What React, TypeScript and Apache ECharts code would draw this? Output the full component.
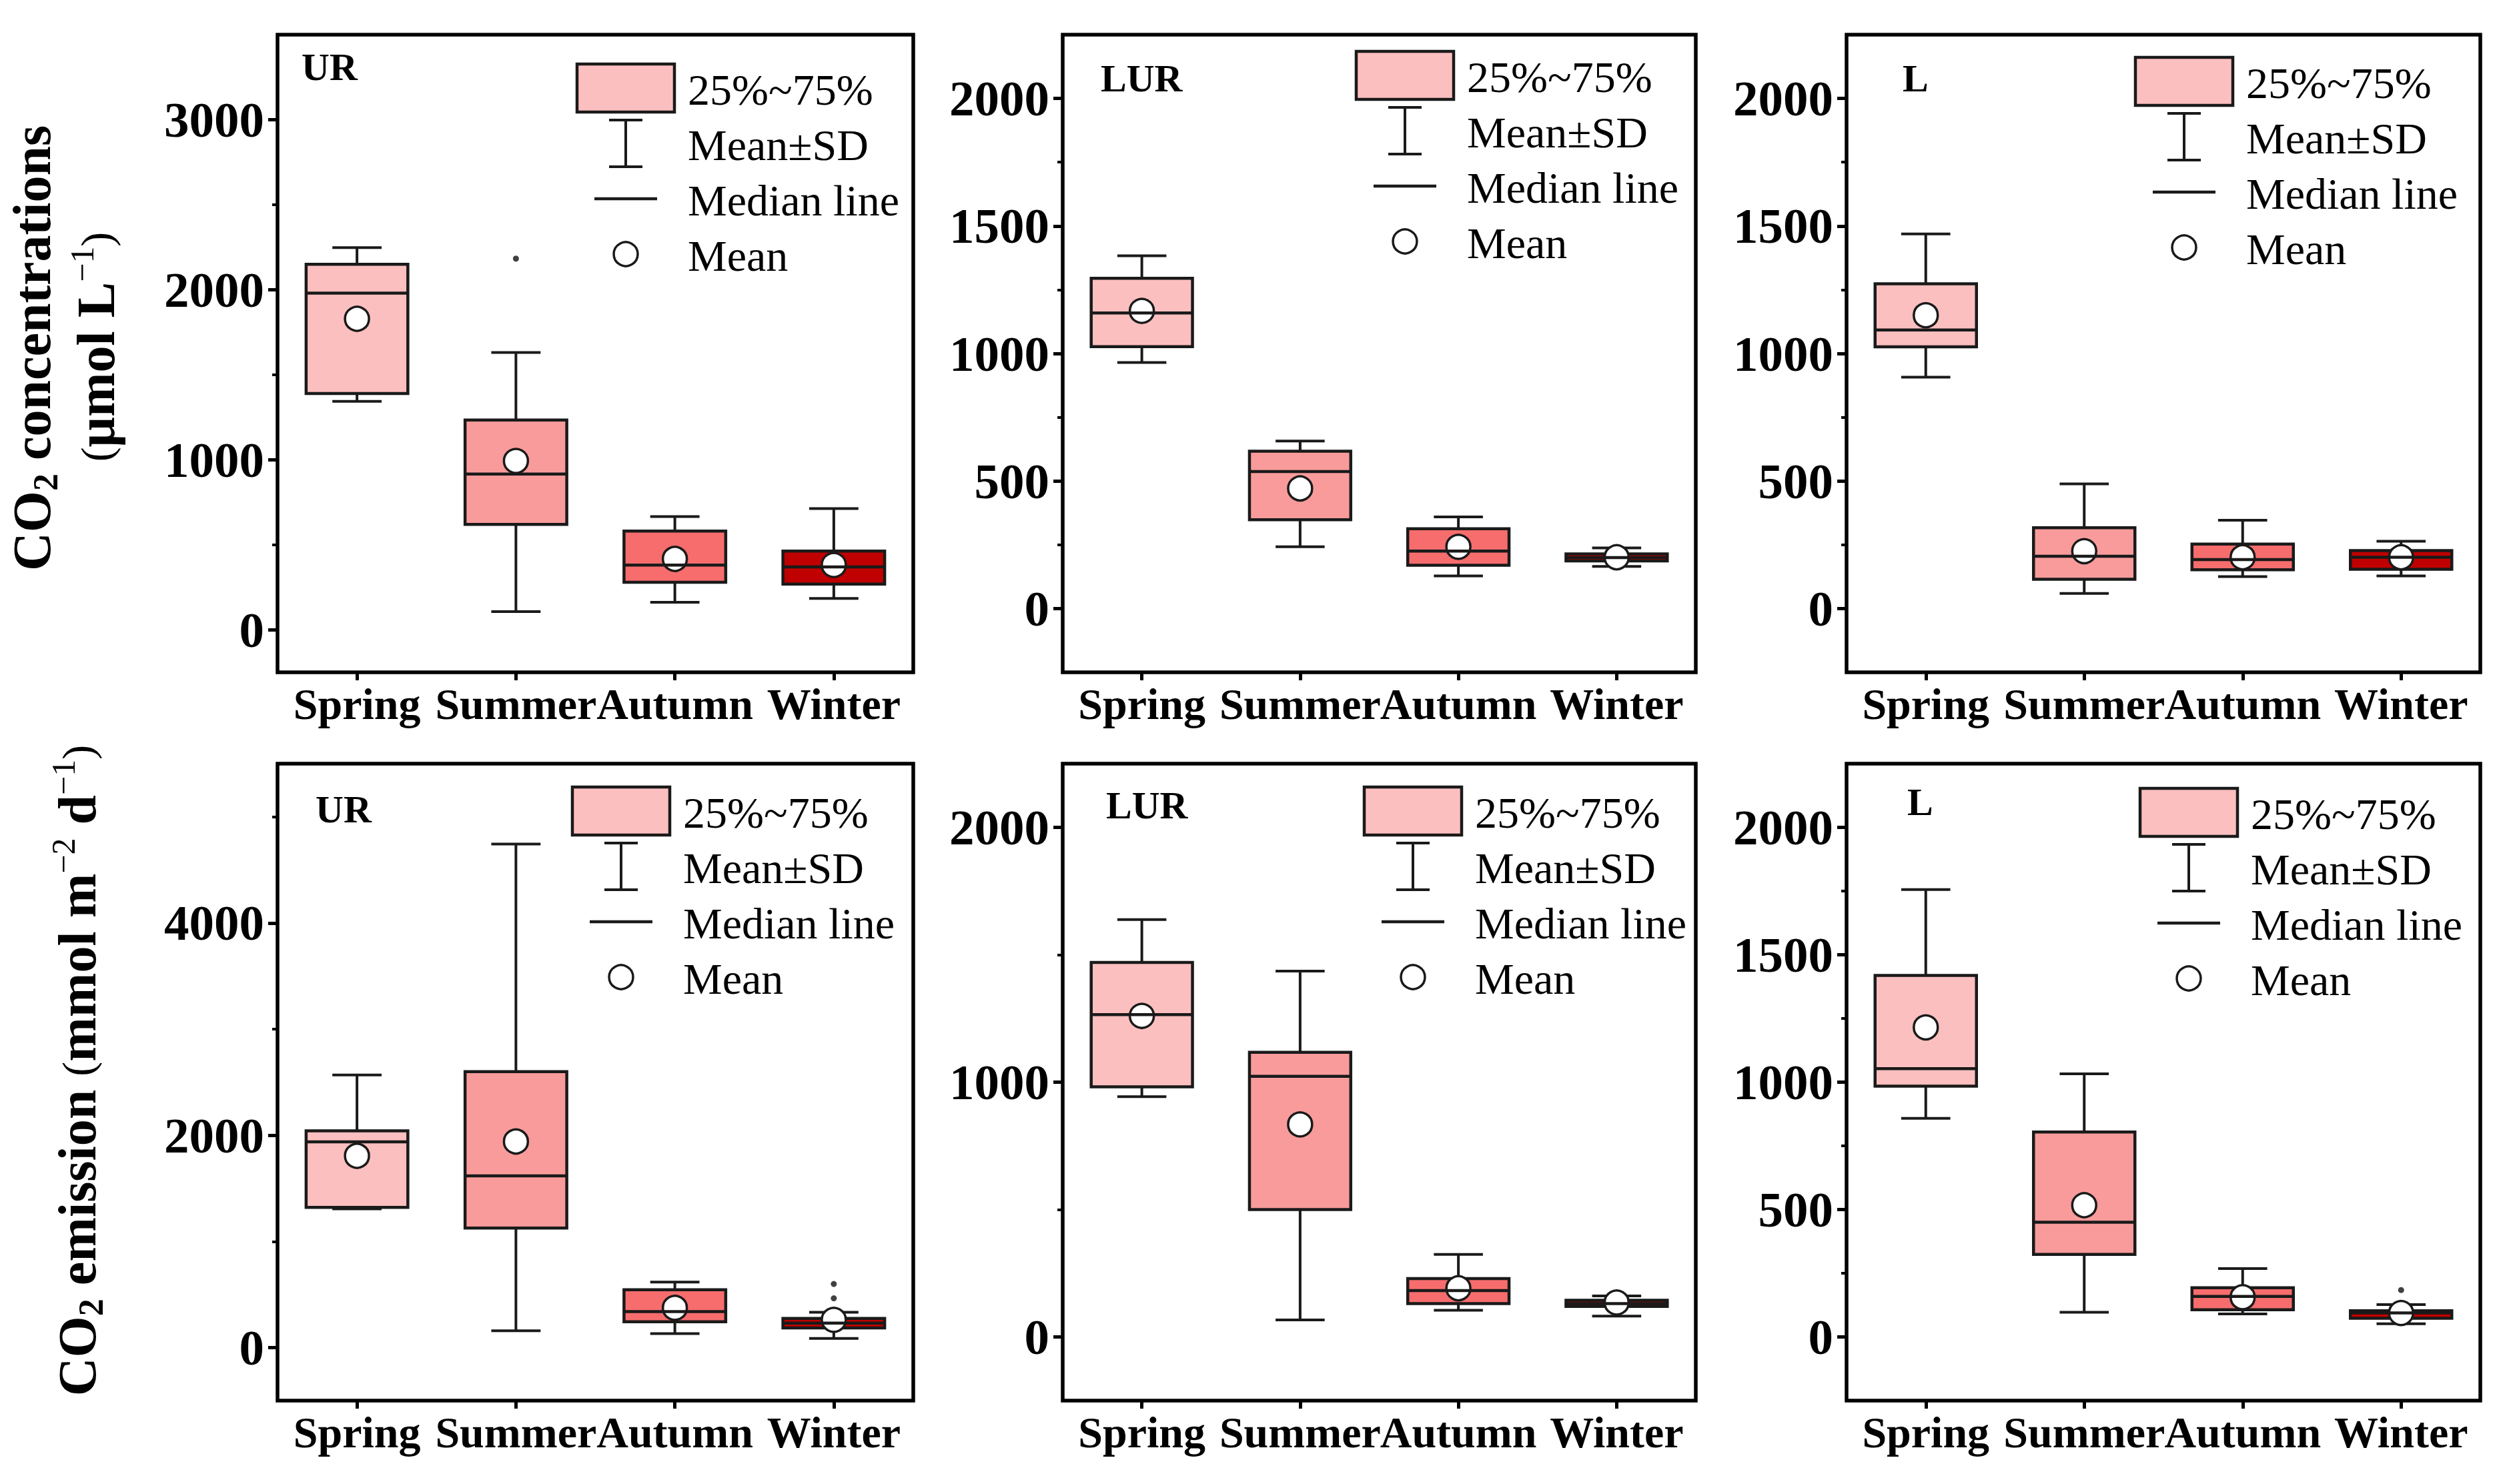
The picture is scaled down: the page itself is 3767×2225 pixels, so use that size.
import React, { useEffect, useRef } from "react";
import * as echarts from "echarts";

// ---------------- DATA ----------------
const seasons = ["Spring", "Summer", "Autumn", "Winter"];
const seasonColors = ["#FCBFBF", "#F99B9B", "#F76D6D", "#C00000"];

// each entry: [lower whisker, Q1, median, Q3, upper whisker]
const urConcBoxes = [
  [1344, 1390, 1980, 2150, 2248],
  [107, 620, 916, 1234, 1631],
  [162, 280, 381, 581, 666],
  [184, 269, 370, 463, 713],
];
const urConcMeans = [1829, 993, 417, 381];
const urConcOutliers = [["Summer", 2183]];
const urConcTicks = [0, 1000, 2000, 3000];
const urConcMinor = [500, 1500, 2500];

const lurConcBoxes = [
  [965, 1027, 1159, 1295, 1383],
  [242, 348, 537, 617, 657],
  [128, 170, 225, 313, 359],
  [165, 187, 200, 214, 238],
];
const lurConcMeans = [1167, 471, 242, 201];
const lurConcOutliers: [string, number][] = [];
const lurConcTicks = [0, 500, 1000, 1500, 2000];
const lurConcMinor = [250, 750, 1250, 1750];

const lConcBoxes = [
  [907, 1026, 1092, 1273, 1469],
  [59, 115, 205, 317, 489],
  [125, 152, 192, 253, 346],
  [128, 154, 201, 227, 264],
];
const lConcMeans = [1150, 225, 201, 201];
const lConcOutliers: [string, number][] = [];
const lConcTicks = [0, 500, 1000, 1500, 2000];
const lConcMinor = [250, 750, 1250, 1750];

const urEmisBoxes = [
  [1306, 1320, 1937, 2041, 2568],
  [158, 1126, 1617, 2599, 4743],
  [131, 243, 338, 545, 617],
  [86, 185, 230, 275, 333],
];
const urEmisMeans = [1806, 1941, 374, 261];
const urEmisOutliers = [["Winter", 464], ["Winter", 599]];
const urEmisTicks = [0, 2000, 4000];
const urEmisMinor = [1000, 3000, 5000];

const lurEmisBoxes = [
  [943, 982, 1265, 1470, 1638],
  [67, 500, 1023, 1117, 1436],
  [105, 131, 182, 229, 324],
  [82, 120, 131, 144, 161],
];
const lurEmisMeans = [1260, 834, 191, 135];
const lurEmisOutliers: [string, number][] = [];
const lurEmisTicks = [0, 1000, 2000];
const lurEmisMinor = [500, 1500];

const lEmisBoxes = [
  [858, 984, 1053, 1419, 1756],
  [97, 324, 450, 804, 1033],
  [90, 107, 159, 193, 268],
  [52, 73, 94, 103, 127],
];
const lEmisMeans = [1215, 517, 156, 94];
const lEmisOutliers = [["Winter", 184]];
const lEmisTicks = [0, 500, 1000, 1500, 2000];
const lEmisMinor = [250, 750, 1250, 1750];

const legendLabels = ["25%~75%", "Mean±SD", "Median line", "Mean"];

// ---------------- LAYOUT ----------------
const SERIF = "'Liberation Serif', 'Times New Roman', serif";

const panels = [
  { name: "UR", boxes: urConcBoxes, means: urConcMeans, outliers: urConcOutliers, min: -250, max: 3500, ticks: urConcTicks, minor: urConcMinor,
    left: 416, top: 52, width: 953, height: 956, lx: 452, ly: 100, legRight: 358, legTop: 44 },
  { name: "LUR", boxes: lurConcBoxes, means: lurConcMeans, outliers: lurConcOutliers, min: -250, max: 2250, ticks: lurConcTicks, minor: lurConcMinor,
    left: 1593, top: 52, width: 949, height: 956, lx: 1650, ly: 117, legRight: 363, legTop: 25 },
  { name: "L", boxes: lConcBoxes, means: lConcMeans, outliers: lConcOutliers, min: -250, max: 2250, ticks: lConcTicks, minor: lConcMinor,
    left: 2768, top: 52, width: 950, height: 956, lx: 2852, ly: 117, legRight: 371, legTop: 34 },
  { name: "UR", boxes: urEmisBoxes, means: urEmisMeans, outliers: urEmisOutliers, min: -500, max: 5500, ticks: urEmisTicks, minor: urEmisMinor,
    left: 416, top: 1145, width: 953, height: 955, lx: 473, ly: 1213, legRight: 365, legTop: 35 },
  { name: "LUR", boxes: lurEmisBoxes, means: lurEmisMeans, outliers: lurEmisOutliers, min: -250, max: 2250, ticks: lurEmisTicks, minor: lurEmisMinor,
    left: 1593, top: 1145, width: 949, height: 955, lx: 1658, ly: 1207, legRight: 351, legTop: 35 },
  { name: "L", boxes: lEmisBoxes, means: lEmisMeans, outliers: lEmisOutliers, min: -250, max: 2250, ticks: lEmisTicks, minor: lEmisMinor,
    left: 2768, top: 1145, width: 950, height: 955, lx: 2859, ly: 1202, legRight: 364, legTop: 37 },
];

const STROKE = "#1a1a1a";

function renderBox(params: any, api: any) {
  const i = api.value(0);
  const lo = api.coord([i, api.value(1)]);
  const q1 = api.coord([i, api.value(2)]);
  const md = api.coord([i, api.value(3)]);
  const q3 = api.coord([i, api.value(4)]);
  const hi = api.coord([i, api.value(5)]);
  const mn = api.coord([i, api.value(6)]);
  const band = api.size([1, 0])[0];
  const x = lo[0];
  const bw = band * 0.64;
  const cw = band * 0.31;
  const lw = 4;
  return {
    type: "group",
    children: [
      { type: "line", shape: { x1: x, y1: q3[1], x2: x, y2: hi[1] }, style: { stroke: STROKE, lineWidth: lw } },
      { type: "line", shape: { x1: x, y1: q1[1], x2: x, y2: lo[1] }, style: { stroke: STROKE, lineWidth: lw } },
      { type: "line", shape: { x1: x - cw / 2, y1: hi[1], x2: x + cw / 2, y2: hi[1] }, style: { stroke: STROKE, lineWidth: lw } },
      { type: "line", shape: { x1: x - cw / 2, y1: lo[1], x2: x + cw / 2, y2: lo[1] }, style: { stroke: STROKE, lineWidth: lw } },
      { type: "rect", shape: { x: x - bw / 2, y: q3[1], width: bw, height: q1[1] - q3[1] },
        style: { fill: seasonColors[i], stroke: STROKE, lineWidth: 4.5 } },
      { type: "circle", shape: { cx: x, cy: mn[1], r: 18 }, style: { fill: "#fff", stroke: STROKE, lineWidth: 3.5 } },
      { type: "line", shape: { x1: x - bw / 2, y1: md[1], x2: x + bw / 2, y2: md[1] }, style: { stroke: STROKE, lineWidth: 4.5 } },
    ],
  };
}

function buildOption() {
  const grid: any[] = [];
  const xAxis: any[] = [];
  const yAxis: any[] = [];
  const series: any[] = [];
  const graphic: any[] = [];

  panels.forEach((p, g) => {
    grid.push({
      left: p.left, top: p.top, width: p.width, height: p.height,
      show: true, borderColor: "#000", borderWidth: 5.5, backgroundColor: "transparent",
      containLabel: false, outerBoundsMode: "none",
    });
    xAxis.push({
      type: "category", gridIndex: g, data: seasons, boundaryGap: true, position: "bottom",
      axisLine: { show: false, onZero: false },
      axisTick: { show: true, alignWithLabel: true, length: 12, lineStyle: { color: "#000", width: 5 } },
      axisLabel: { interval: 0, hideOverlap: false, fontFamily: SERIF, fontWeight: "bold", fontSize: 66, color: "#000", margin: 14 },
      splitLine: { show: false },
    });
    const mainY = yAxis.length;
    yAxis.push({
      type: "value", gridIndex: g, min: p.min, max: p.max, position: "left",
      axisLine: { show: false, onZero: false },
      axisTick: { show: true, inside: false, length: 14, lineStyle: { color: "#000", width: 5 }, customValues: p.ticks },
      axisLabel: { customValues: p.ticks, formatter: (v: number) => String(v), fontFamily: SERIF, fontWeight: "bold", fontSize: 75, color: "#000", margin: 20 },
      splitLine: { show: false },
    });
    yAxis.push({
      type: "value", gridIndex: g, min: p.min, max: p.max, position: "left",
      axisLine: { show: false, onZero: false },
      axisTick: { show: true, inside: false, length: 8, lineStyle: { color: "#000", width: 4 }, customValues: p.minor },
      axisLabel: { show: false },
      splitLine: { show: false },
    });
    series.push({
      type: "custom", xAxisIndex: g, yAxisIndex: mainY, clip: false,
      renderItem: renderBox,
      encode: { x: 0, y: [1, 2, 3, 4, 5, 6] },
      data: p.boxes.map((b, i) => [i, ...b, p.means[i]]),
      z: 3,
    });
    if (p.outliers.length) {
      series.push({
        type: "scatter", xAxisIndex: g, yAxisIndex: mainY,
        symbol: "circle", symbolSize: 9,
        itemStyle: { color: "#111" },
        data: p.outliers,
        z: 4,
      });
    }

    // panel label
    graphic.push({
      type: "text", x: p.lx, y: p.ly,
      style: { text: p.name, fontFamily: SERIF, fontWeight: "bold", fontSize: 58, fill: "#000", align: "left", verticalAlign: "middle" },
      z: 10,
    });

    // legend
    const right = p.left + p.width;
    const sw = 146, sh = 72;
    const sx = right - p.legRight - sw;
    const sy = p.top + p.legTop;
    const cx = sx + sw / 2;
    const row0 = sy + sh / 2;
    const step = 83;
    graphic.push({ type: "rect", shape: { x: sx, y: sy, width: sw, height: sh }, style: { fill: seasonColors[0], stroke: STROKE, lineWidth: 4.5 }, z: 10 });
    const r1 = row0 + step;
    graphic.push({ type: "line", shape: { x1: cx, y1: r1 - 35, x2: cx, y2: r1 + 35 }, style: { stroke: STROKE, lineWidth: 4 }, z: 10 });
    graphic.push({ type: "line", shape: { x1: cx - 25, y1: r1 - 35, x2: cx + 25, y2: r1 - 35 }, style: { stroke: STROKE, lineWidth: 4 }, z: 10 });
    graphic.push({ type: "line", shape: { x1: cx - 25, y1: r1 + 35, x2: cx + 25, y2: r1 + 35 }, style: { stroke: STROKE, lineWidth: 4 }, z: 10 });
    const r2 = row0 + 2 * step;
    graphic.push({ type: "line", shape: { x1: cx - 47, y1: r2, x2: cx + 47, y2: r2 }, style: { stroke: STROKE, lineWidth: 4.5 }, z: 10 });
    const r3 = row0 + 3 * step;
    graphic.push({ type: "circle", shape: { cx, cy: r3, r: 18 }, style: { fill: "#fff", stroke: STROKE, lineWidth: 3.5 }, z: 10 });
    legendLabels.forEach((t, k) => {
      graphic.push({
        type: "text", x: sx + sw + 20, y: row0 + k * step + 2,
        style: { text: t, fontFamily: SERIF, fontSize: 66, fill: "#000", align: "left", verticalAlign: "middle" },
        z: 10,
      });
    });
  });

  const rich = {
    b: { fontFamily: SERIF, fontWeight: "bold", fontSize: 80, lineHeight: 92, color: "#000" },
    s: { fontFamily: SERIF, fontWeight: "bold", fontSize: 52, lineHeight: 52, verticalAlign: "bottom", color: "#000" },
    sup: { fontFamily: SERIF, fontWeight: "normal", fontSize: 50, lineHeight: 50, verticalAlign: "top", color: "#000" },
    p: { fontFamily: SERIF, fontWeight: "normal", fontSize: 66, lineHeight: 92, color: "#000" },
  };

  graphic.push({
    type: "text", x: 48, y: 522, rotation: Math.PI / 2,
    style: { text: "{b|CO}{s|2}{b| concentrations}", rich, align: "center", verticalAlign: "middle" },
    z: 10,
  });
  graphic.push({
    type: "text", x: 144, y: 520, rotation: Math.PI / 2,
    style: { text: "{p|(}{b|μmol L}{sup|−1}{p|)}", rich, align: "center", verticalAlign: "middle" },
    z: 10,
  });
  graphic.push({
    type: "text", x: 116, y: 1605, rotation: Math.PI / 2,
    style: { text: "{b|CO}{s|2}{b| emission }{p|(}{b|mmol m}{sup|−2}{b| d}{sup|−1}{p|)}", rich, align: "center", verticalAlign: "middle" },
    z: 10,
  });

  return {
    animation: false,
    backgroundColor: "#ffffff",
    grid, xAxis, yAxis, series, graphic,
  };
}

export default function App() {
  const ref = useRef<HTMLDivElement>(null);
  useEffect(() => {
    if (!ref.current) return;
    const chart = echarts.init(ref.current, null, { renderer: "svg" });
    chart.setOption(buildOption() as any);
    return () => chart.dispose();
  }, []);
  return (
    <div
      ref={ref}
      style={{ position: "fixed", left: 0, top: 0, width: "3767px", height: "2225px", background: "#fff" }}
    />
  );
}
